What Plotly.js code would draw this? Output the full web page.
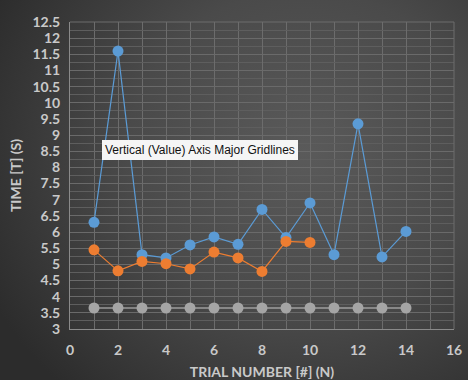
<!DOCTYPE html>
<html>
<head>
<meta charset="utf-8">
<script src="https://cdn.plot.ly/plotly-3.0.1.min.js"></script>
<style>
html,body{margin:0;padding:0;}
body{width:468px;height:380px;overflow:hidden;
background: radial-gradient(ellipse 75% 85% at 65% 40%, #5a5a5a 0%, #4a4a4a 50%, #2c2c2c 100%);}
#chart{width:468px;height:380px;}
</style>
</head>
<body>
<div id="chart"></div>
<script>
var trialsBlue = [1,2,3,4,5,6,7,8,9,10,11,12,13,14];
var timeBlue = [6.3,11.6,5.3,5.2,5.6,5.85,5.62,6.7,5.83,6.9,5.3,9.35,5.23,6.02];
var trialsOrange = [1,2,3,4,5,6,7,8,9,10];
var timeOrange = [5.45,4.8,5.09,5.02,4.86,5.38,5.2,4.78,5.71,5.68];
var trialsGray = [1,2,3,4,5,6,7,8,9,10,11,12,13,14];
var timeGray = [3.65,3.65,3.65,3.65,3.65,3.65,3.65,3.65,3.65,3.65,3.65,3.65,3.65,3.65];

var tickFont = {family:'Lato, "Open Sans", sans-serif', size:14, color:'#c9c9c9', weight:'bold'};

var traces = [
 {x:trialsGray, y:timeGray, mode:'lines+markers', line:{color:'#c8c8c8', width:1.2},
  marker:{color:'#a5a5a5', size:11}, showlegend:false, hoverinfo:'skip'},
 {x:trialsBlue, y:timeBlue, mode:'lines+markers', line:{color:'#5b9bd5', width:1.2},
  marker:{color:'#5b9bd5', size:11}, showlegend:false, hoverinfo:'skip'},
 {x:trialsOrange, y:timeOrange, mode:'lines+markers', line:{color:'#ed7d31', width:1.2},
  marker:{color:'#ed7d31', size:11}, showlegend:false, hoverinfo:'skip'}
];

var layout = {
 width:468, height:380,
 margin:{l:70, r:14, t:22, b:51},
 paper_bgcolor:'rgba(0,0,0,0)', plot_bgcolor:'rgba(0,0,0,0)',
 xaxis:{range:[0,16], dtick:2, tick0:0, showgrid:true, gridcolor:'#6c6c6c', gridwidth:1,
   minor:{dtick:1, showgrid:true, gridcolor:'#6c6c6c', gridwidth:1},
   zeroline:false, showline:true, linecolor:'#8a8a8a', linewidth:1, mirror:false,
   ticks:'', tickfont:tickFont, ticklabelstandoff:8,
   title:{text:'TRIAL NUMBER [#] (N)', font:{family:'Lato, "Open Sans", sans-serif', size:14, color:'#c9c9c9', weight:'bold'}, standoff:10}},
 yaxis:{range:[3,12.5], dtick:0.5, tick0:3, showgrid:true, gridcolor:'#6a6a6a', gridwidth:1,
   minor:{dtick:0.25, showgrid:true, gridcolor:'#5e5e5e', gridwidth:1},
   zeroline:false, showline:true, linecolor:'#8a8a8a', linewidth:1,
   ticks:'', tickfont:tickFont, ticklabelstandoff:6,
   title:{text:'TIME [T] (S)', font:{family:'Lato, "Open Sans", sans-serif', size:14, color:'#c9c9c9', weight:'bold'}, standoff:7}},
 shapes:[{type:'line', xref:'paper', yref:'paper', x0:1, x1:1, y0:0, y1:1, line:{color:'#6c6c6c', width:1}},
         {type:'line', xref:'paper', yref:'paper', x0:0, x1:1, y0:1, y1:1, line:{color:'#6c6c6c', width:1}}],
 annotations:[{xref:'paper', yref:'paper', x:(102-70)/384, y:(329-150)/307, xanchor:'left', yanchor:'middle',
   text:'Vertical (Value) Axis Major Gridlines', showarrow:false,
   font:{family:'"Liberation Sans", Arial, sans-serif', size:12, color:'#111'},
   bgcolor:'#f5f5f5', bordercolor:'#cfcfcf', borderwidth:0, borderpad:3}]
};

Plotly.newPlot('chart', traces, layout, {staticPlot:true, displayModeBar:false});
</script>
</body>
</html>
